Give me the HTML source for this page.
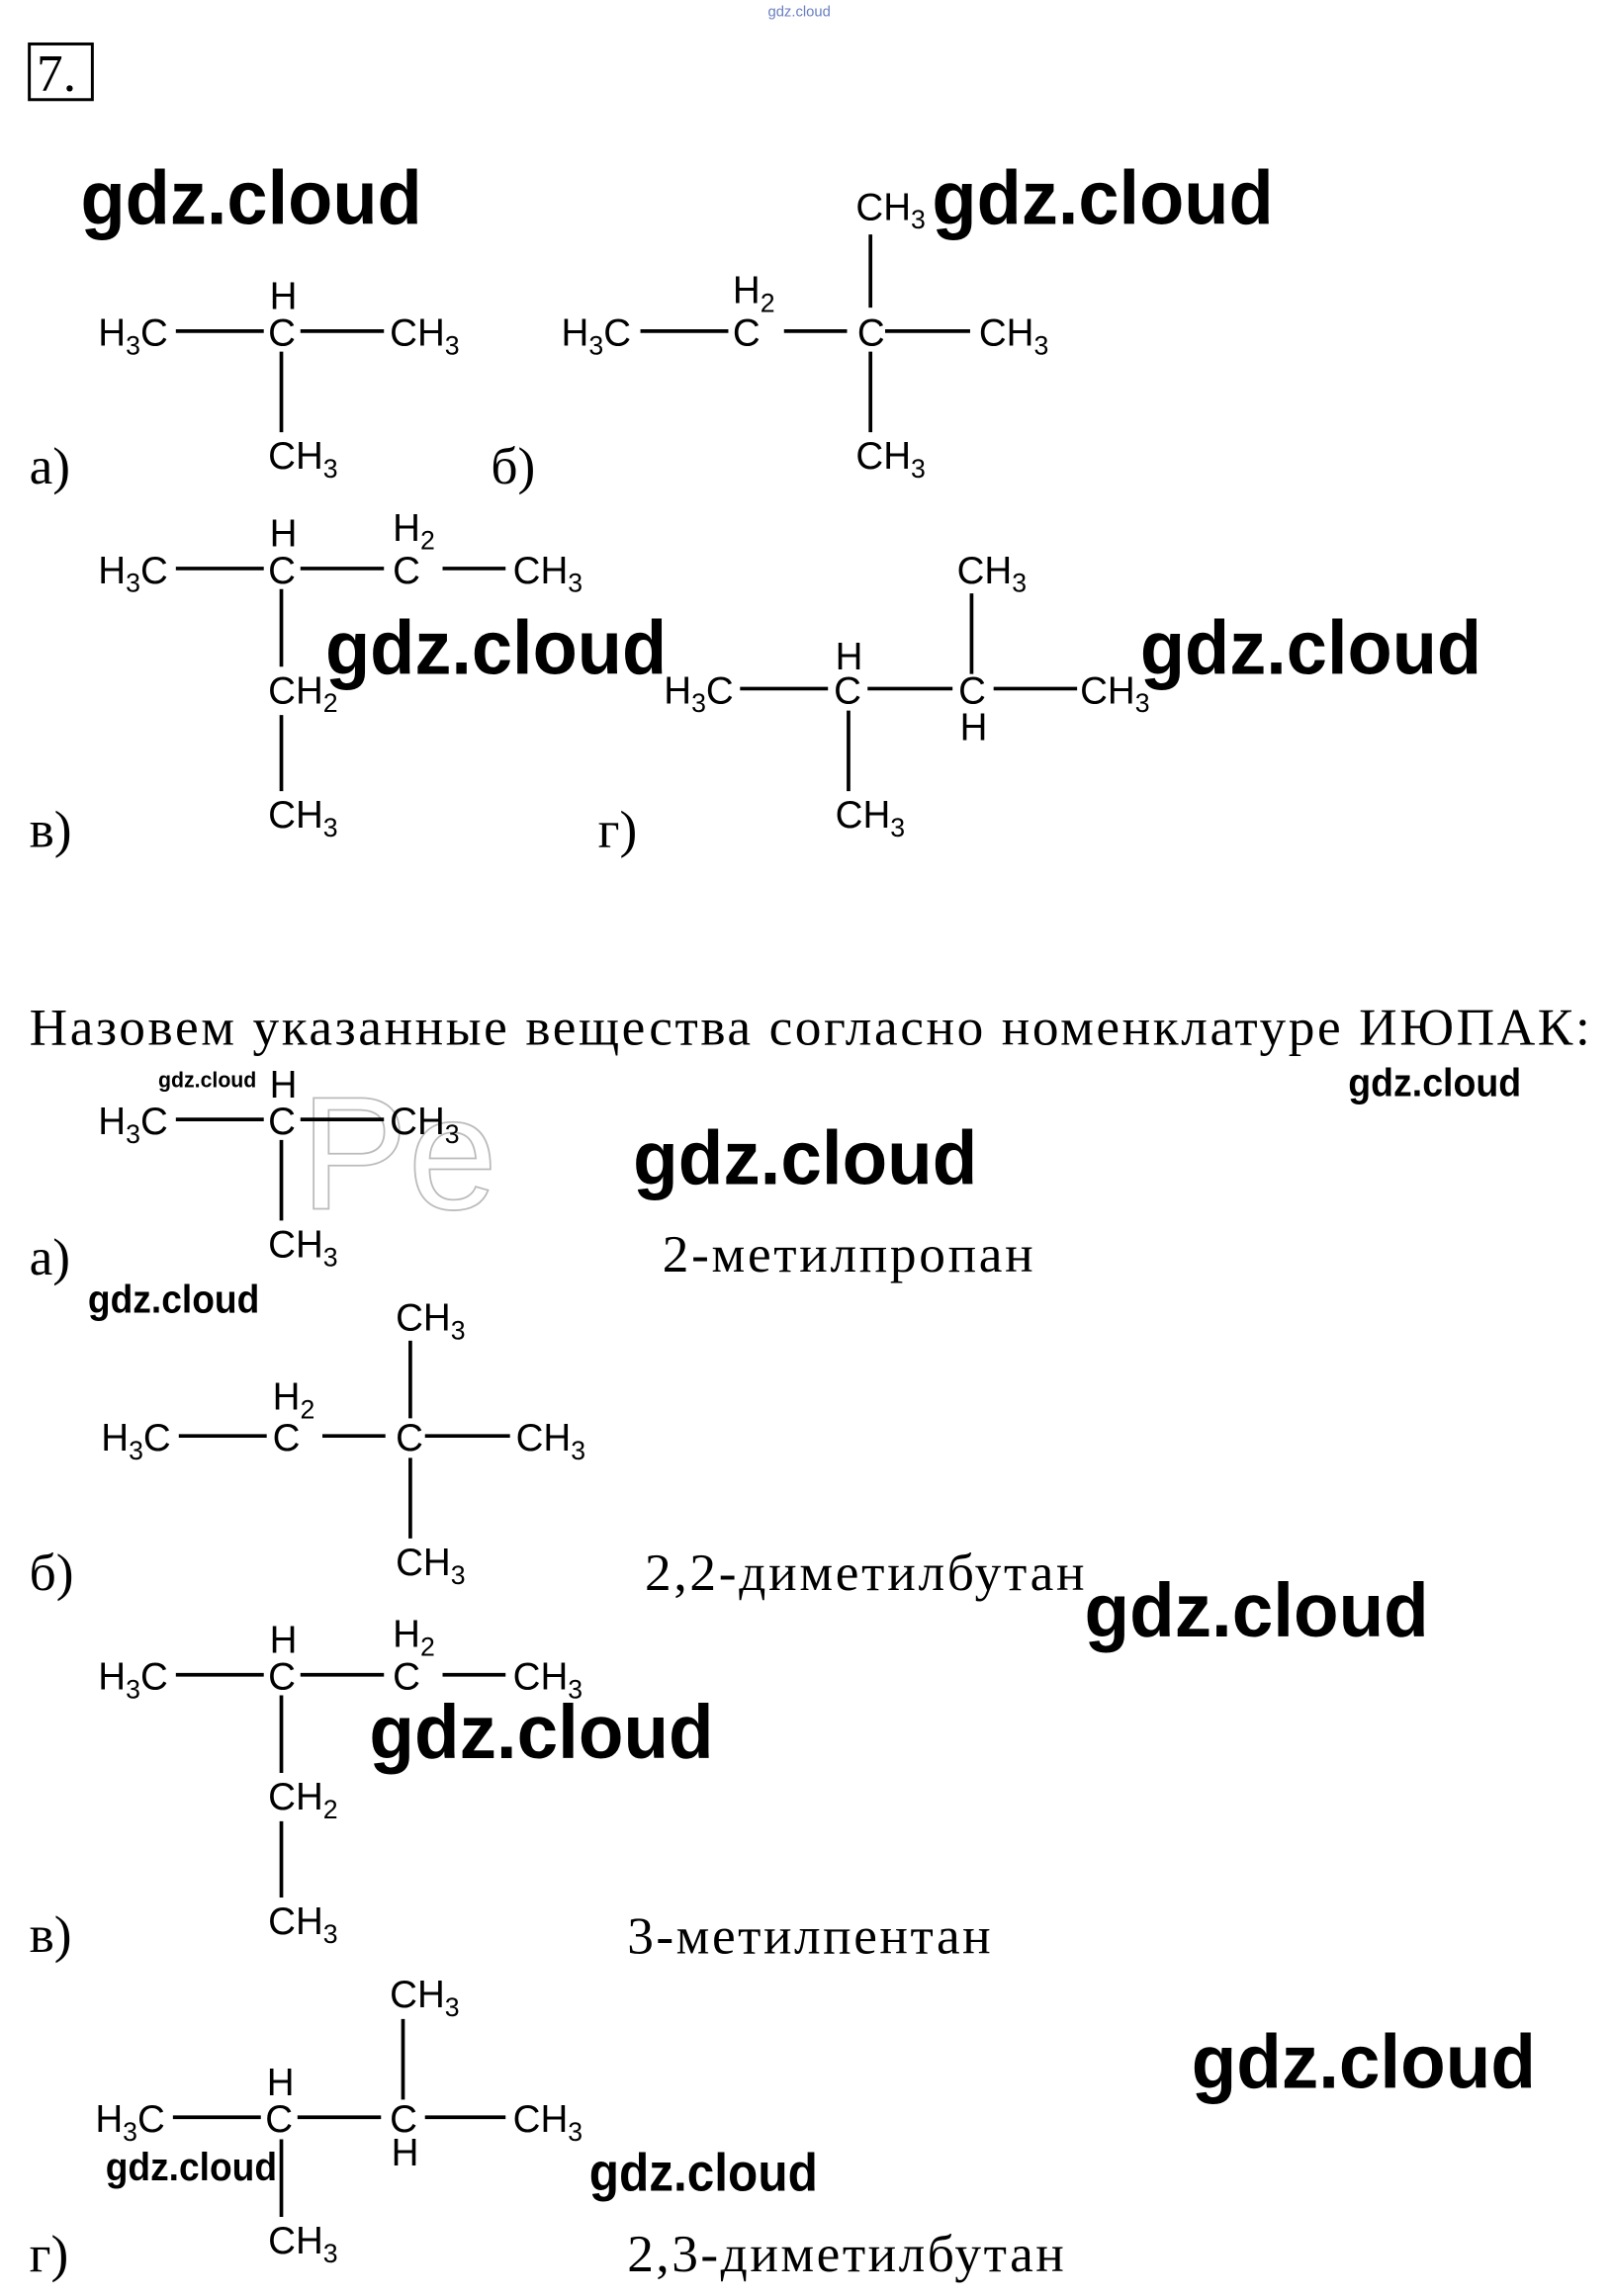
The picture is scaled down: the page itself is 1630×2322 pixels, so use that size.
<!DOCTYPE html>
<html><head><meta charset="utf-8"><style>
html,body{margin:0;padding:0;background:#fff;}
svg{display:block}
.c{font-family:"Liberation Sans",sans-serif;font-size:26px;fill:#000}
.s{font-size:18px}
.l{font-family:"Liberation Serif",serif;font-size:36px;fill:#000}
.g{font-family:"Liberation Sans",sans-serif;font-weight:bold;fill:#000}
line{stroke:#000;stroke-width:2.5}
</style></head><body>
<svg width="1630" height="2322" viewBox="0 0 1100 1567" xmlns="http://www.w3.org/2000/svg">
<text x="524" y="11" font-family="Liberation Sans" font-size="10" fill="#6a7fc0">gdz.cloud</text>
<rect x="20" y="30" width="43" height="38" fill="none" stroke="#000" stroke-width="2"/>
<text x="25" y="62" class="l" font-size="34">7.</text>

<text class="g" x="55" y="153" font-size="52" textLength="233" lengthAdjust="spacingAndGlyphs">gdz.cloud</text>
<!-- a -->
<text class="c" x="67" y="236">H<tspan class="s" dy="6">3</tspan><tspan dy="-6">C</tspan></text>
<line x1="120" y1="226" x2="180" y2="226"/>
<text class="c" x="184" y="211">H</text><text class="c" x="183" y="236">C</text>
<line x1="205" y1="226" x2="262" y2="226"/>
<text class="c" x="266" y="236">CH<tspan class="s" dy="6">3</tspan></text>
<line x1="192" y1="240" x2="192" y2="295"/>
<text class="c" x="183" y="320">CH<tspan class="s" dy="6">3</tspan></text>
<text class="l" x="20" y="330">а)</text>
<!-- b -->
<text class="c" x="383" y="236">H<tspan class="s" dy="6">3</tspan><tspan dy="-6">C</tspan></text>
<line x1="437" y1="226" x2="497" y2="226"/>
<text class="c" x="500" y="207">H<tspan class="s" dy="6">2</tspan></text><text class="c" x="500" y="236">C</text>
<line x1="535" y1="226" x2="578" y2="226"/>
<text class="c" x="585" y="236">C</text>
<line x1="604" y1="226" x2="662" y2="226"/>
<text class="c" x="668" y="236">CH<tspan class="s" dy="6">3</tspan></text>
<line x1="594" y1="160" x2="594" y2="210"/>
<text class="c" x="584" y="150">CH<tspan class="s" dy="6">3</tspan></text>
<line x1="594" y1="240" x2="594" y2="295"/>
<text class="c" x="584" y="320">CH<tspan class="s" dy="6">3</tspan></text>
<text class="l" x="335" y="330">б)</text>
<text class="g" x="636" y="153" font-size="52" textLength="233" lengthAdjust="spacingAndGlyphs">gdz.cloud</text>
<!-- v -->
<text class="c" x="67" y="398">H<tspan class="s" dy="6">3</tspan><tspan dy="-6">C</tspan></text>
<line x1="120" y1="388" x2="180" y2="388"/>
<text class="c" x="184" y="373">H</text><text class="c" x="183" y="398">C</text>
<line x1="205" y1="388" x2="262" y2="388"/>
<text class="c" x="268" y="369">H<tspan class="s" dy="6">2</tspan></text><text class="c" x="268" y="398">C</text>
<line x1="302" y1="388" x2="345" y2="388"/>
<text class="c" x="350" y="398">CH<tspan class="s" dy="6">3</tspan></text>
<line x1="192" y1="402" x2="192" y2="455"/>
<text class="c" x="183" y="480">CH<tspan class="s" dy="6">2</tspan></text>
<line x1="192" y1="488" x2="192" y2="540"/>
<text class="c" x="183" y="565">CH<tspan class="s" dy="6">3</tspan></text>
<text class="l" x="20" y="578">в)</text>
<text class="g" x="222" y="460" font-size="52" textLength="233" lengthAdjust="spacingAndGlyphs">gdz.cloud</text>
<!-- g -->
<text class="c" x="453" y="480">H<tspan class="s" dy="6">3</tspan><tspan dy="-6">C</tspan></text>
<line x1="505" y1="470" x2="565" y2="470"/>
<text class="c" x="570" y="457">H</text><text class="c" x="569" y="480">C</text>
<line x1="592" y1="470" x2="650" y2="470"/>
<text class="c" x="654" y="480">C</text><text class="c" x="655" y="505">H</text>
<line x1="678" y1="470" x2="735" y2="470"/>
<text class="c" x="737" y="480">CH<tspan class="s" dy="6">3</tspan></text>
<line x1="663" y1="405" x2="663" y2="460"/>
<text class="c" x="653" y="398">CH<tspan class="s" dy="6">3</tspan></text>
<line x1="579" y1="485" x2="579" y2="540"/>
<text class="c" x="570" y="565">CH<tspan class="s" dy="6">3</tspan></text>
<text class="l" x="408" y="578">г)</text>
<text class="g" x="778" y="460" font-size="52" textLength="233" lengthAdjust="spacingAndGlyphs">gdz.cloud</text>

<text class="l" x="20" y="713" textLength="1065">Назовем указанные вещества согласно номенклатуре ИЮПАК:</text>

<!-- second a -->
<text x="205" y="825" font-family="Liberation Sans" font-size="110" fill="none" stroke="#bbb" stroke-width="1.2">Pe</text>
<text class="g" x="108" y="742" font-size="15" font-weight="normal" textLength="67" lengthAdjust="spacingAndGlyphs">gdz.cloud</text>
<text class="c" x="67" y="774">H<tspan class="s" dy="6">3</tspan><tspan dy="-6">C</tspan></text>
<line x1="120" y1="764" x2="180" y2="764"/>
<text class="c" x="184" y="749">H</text><text class="c" x="183" y="774">C</text>
<line x1="205" y1="764" x2="262" y2="764"/>
<text class="c" x="266" y="774">CH<tspan class="s" dy="6">3</tspan></text>
<line x1="192" y1="778" x2="192" y2="833"/>
<text class="c" x="183" y="858">CH<tspan class="s" dy="6">3</tspan></text>
<text class="l" x="20" y="870">а)</text>
<text class="l" x="452" y="868" textLength="253">2-метилпропан</text>
<text class="g" x="920" y="748" font-size="27" font-weight="normal" textLength="118" lengthAdjust="spacingAndGlyphs">gdz.cloud</text>
<text class="g" x="432" y="808" font-size="52" textLength="235" lengthAdjust="spacingAndGlyphs">gdz.cloud</text>
<text class="g" x="60" y="896" font-size="27" font-weight="normal" textLength="117" lengthAdjust="spacingAndGlyphs">gdz.cloud</text>
<!-- second b -->
<text class="c" x="270" y="908">CH<tspan class="s" dy="6">3</tspan></text>
<line x1="280" y1="915" x2="280" y2="968"/>
<text class="c" x="186" y="962">H<tspan class="s" dy="6">2</tspan></text>
<text class="c" x="69" y="990">H<tspan class="s" dy="6">3</tspan><tspan dy="-6">C</tspan></text>
<line x1="122" y1="980" x2="182" y2="980"/>
<text class="c" x="186" y="990">C</text>
<line x1="220" y1="980" x2="263" y2="980"/>
<text class="c" x="270" y="990">C</text>
<line x1="290" y1="980" x2="348" y2="980"/>
<text class="c" x="352" y="990">CH<tspan class="s" dy="6">3</tspan></text>
<line x1="280" y1="995" x2="280" y2="1050"/>
<text class="c" x="270" y="1075">CH<tspan class="s" dy="6">3</tspan></text>
<text class="l" x="20" y="1085">б)</text>
<text class="l" x="440" y="1085" textLength="300">2,2-диметилбутан</text>
<text class="g" x="740" y="1117" font-size="52" textLength="235" lengthAdjust="spacingAndGlyphs">gdz.cloud</text>
<!-- second v -->
<text class="c" x="67" y="1153">H<tspan class="s" dy="6">3</tspan><tspan dy="-6">C</tspan></text>
<line x1="120" y1="1143" x2="180" y2="1143"/>
<text class="c" x="184" y="1128">H</text><text class="c" x="183" y="1153">C</text>
<line x1="205" y1="1143" x2="262" y2="1143"/>
<text class="c" x="268" y="1124">H<tspan class="s" dy="6">2</tspan></text><text class="c" x="268" y="1153">C</text>
<line x1="302" y1="1143" x2="345" y2="1143"/>
<text class="c" x="350" y="1153">CH<tspan class="s" dy="6">3</tspan></text>
<line x1="192" y1="1157" x2="192" y2="1210"/>
<text class="c" x="183" y="1235">CH<tspan class="s" dy="6">2</tspan></text>
<line x1="192" y1="1243" x2="192" y2="1295"/>
<text class="c" x="183" y="1320">CH<tspan class="s" dy="6">3</tspan></text>
<text class="l" x="20" y="1332">в)</text>
<text class="l" x="428" y="1333" textLength="248">3-метилпентан</text>
<text class="g" x="252" y="1200" font-size="52" textLength="235" lengthAdjust="spacingAndGlyphs">gdz.cloud</text>
<!-- second g -->
<text class="c" x="266" y="1370">CH<tspan class="s" dy="6">3</tspan></text>
<line x1="275" y1="1378" x2="275" y2="1433"/>
<text class="c" x="182" y="1430">H</text>
<text class="c" x="65" y="1455">H<tspan class="s" dy="6">3</tspan><tspan dy="-6">C</tspan></text>
<line x1="118" y1="1445" x2="178" y2="1445"/>
<text class="c" x="181" y="1455">C</text>
<line x1="203" y1="1445" x2="260" y2="1445"/>
<text class="c" x="266" y="1455">C</text><text class="c" x="267" y="1478">H</text>
<line x1="290" y1="1445" x2="345" y2="1445"/>
<text class="c" x="350" y="1455">CH<tspan class="s" dy="6">3</tspan></text>
<line x1="192" y1="1460" x2="192" y2="1513"/>
<text class="c" x="183" y="1538">CH<tspan class="s" dy="6">3</tspan></text>
<text class="l" x="20" y="1550">г)</text>
<text class="l" x="428" y="1550" textLength="298">2,3-диметилбутан</text>
<text class="g" x="72" y="1488" font-size="27" font-weight="normal" textLength="117" lengthAdjust="spacingAndGlyphs">gdz.cloud</text>
<text class="g" x="402" y="1495" font-size="36" font-weight="normal" textLength="156" lengthAdjust="spacingAndGlyphs">gdz.cloud</text>
<text class="g" x="813" y="1425" font-size="52" textLength="235" lengthAdjust="spacingAndGlyphs">gdz.cloud</text>
</svg>
</body></html>
